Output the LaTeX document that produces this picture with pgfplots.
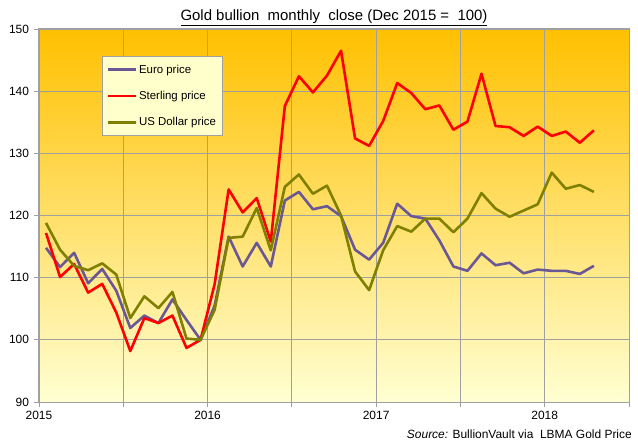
\documentclass[border=0pt]{standalone}
\usepackage{fontspec}
\setmainfont{Liberation Sans}
\usepackage{pgfplots}
\usepackage{pgfplotstable}
\pgfplotsset{compat=1.18}

\definecolor{euro}{RGB}{106,88,150}
\definecolor{sterling}{RGB}{255,0,0}
\definecolor{usd}{RGB}{128,128,0}
\definecolor{gridgray}{RGB}{160,160,160}
\definecolor{bgtop}{RGB}{255,192,0}
\definecolor{bgmid}{RGB}{255,250,150}
\definecolor{bgbot}{RGB}{255,255,210}
\definecolor{legfill}{RGB}{255,255,204}

% month index (Jan 2015 = 0.5), indexed close, Dec 2015 = 100
\pgfplotstableread{
x    euro   gbp    usd
0.5  114.8  117.2  118.8
1.5  111.7  110.1  114.5
2.5  114.0  112.2  111.9
3.5  109.1  107.6  111.2
4.5  111.4  109.0  112.3
5.5  107.9  104.4  110.5
6.5  101.9   98.2  103.5
7.5  103.9  103.5  107.0
8.5  102.7  102.7  105.1
9.5  106.5  103.9  107.7
10.5 103.2   98.7  100.2
11.5 100.0  100.0  100.0
12.5 105.5  108.9  104.8
13.5 116.6  124.2  116.4
14.5 111.8  120.5  116.6
15.5 115.6  122.8  121.2
16.5 111.8  115.8  114.4
17.5 122.4  137.6  124.6
18.5 123.8  142.4  126.6
19.5 121.0  139.8  123.5
20.5 121.5  142.5  124.8
21.5 119.9  146.5  120.0
22.5 114.5  132.4  111.0
23.5 112.9  131.2  108.0
24.5 115.6  135.2  114.4
25.5 121.9  141.3  118.3
26.5 119.9  139.7  117.4
27.5 119.5  137.1  119.5
28.5 116.0  137.7  119.5
29.5 111.8  133.8  117.3
30.5 111.1  135.1  119.5
31.5 113.9  142.8  123.6
32.5 112.0  134.4  121.1
33.5 112.4  134.2  119.8
34.5 110.7  132.8  120.8
35.5 111.3  134.3  121.8
36.5 111.1  132.8  126.9
37.5 111.1  133.5  124.3
38.5 110.6  131.7  124.9
39.5 111.9  133.7  123.8
}\gold

\begin{document}
\begin{tikzpicture}
\useasboundingbox (-39bp,-41bp) rectangle (599bp,402bp);
\begin{axis}[
    scale only axis,
    width=590bp, height=373bp,
    xmin=0, xmax=42,
    ymin=90, ymax=150,
    xtick={0,6,...,42},
    xticklabels={2015,,2016,,2017,,2018,},
    ytick={90,100,...,150},
    xtick pos=lower, ytick pos=left,
    tick align=outside,
    major tick length=5bp,
    grid=major,
    grid style={gridgray, line width=0.9bp},
    axis line style={gridgray, line width=1bp},
    tick style={gridgray, line width=0.9bp},
    tick label style={font=\fontsize{12}{14}\selectfont},
    yticklabel style={xshift=-1.5bp},
    xticklabel style={yshift=-1bp},
    /pgf/number format/assume math mode=true,
    axis background/.style={shade, top color=bgtop, middle color=bgmid, bottom color=bgbot},
    legend style={
        at={(0.1068,0.9276)}, anchor=north west,
        fill=legfill, draw=gridgray, line width=0.8bp,
        font=\fontsize{11.5}{13}\selectfont,
        row sep=12.5bp, inner xsep=4bp, inner ysep=6.5bp,
    },
    legend cell align=left,
    legend image code/.code={\draw[#1] (0bp,0bp) -- (28bp,0bp);},
    every axis plot/.append style={line width=2.6bp, line join=round},
]
\addplot[euro] table[x=x, y=euro] {\gold};
\addlegendentry{Euro price}
\addplot[sterling] table[x=x, y=gbp] {\gold};
\addlegendentry{Sterling price}
\addplot[usd] table[x=x, y=usd] {\gold};
\addlegendentry{US Dollar price}
\end{axis}
\node[anchor=base, font=\fontsize{15}{18}\selectfont] at (295bp,381.5bp)
    {\underline{Gold bullion\ \ monthly\ \ close (Dec 2015 =\ \ 100)}};
\node[anchor=base east, inner sep=0pt, font=\fontsize{12}{14}\selectfont] at (593bp,-36bp)
    {\textit{Source:} BullionVault via\ \ LBMA Gold Price};
\end{tikzpicture}
\end{document}
